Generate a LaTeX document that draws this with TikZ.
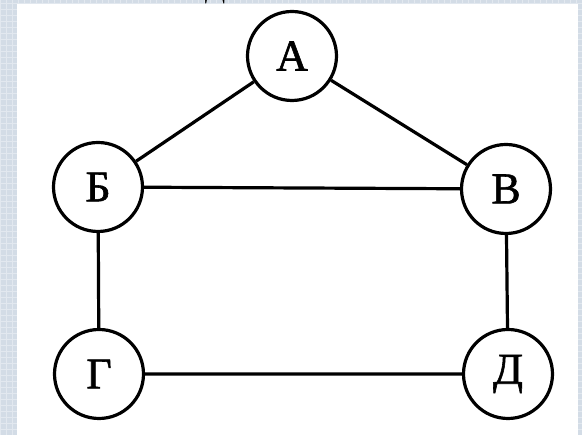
\documentclass[tikz,border=0pt]{standalone}
\usepackage{fontspec}
\setmainfont{Liberation Serif}
\newfontfamily\vtxfont{Liberation Serif}[FakeBold=1.3]
\usetikzlibrary{positioning}
\definecolor{slide}{RGB}{211,220,230}
\definecolor{slidegrid}{RGB}{226,232,239}
\tikzset{vertex/.style={circle,fill=white,draw=black,line width=3.2pt,inner sep=0pt,
minimum size=89pt, font=\fontsize{44}{44}\vtxfont},
link/.style={color=black, line width=3.2pt},
frame/.style={fill=slide},
gridline/.style={draw=slidegrid, line width=0.6pt}}

\begin{document}
\begin{tikzpicture}[x=1pt,y=1pt]
  \useasboundingbox (0,0) rectangle (582,435);
  % slide background
  \fill [frame] (0,0) rectangle (582,435);
  \draw [gridline, step=6] (0,0) grid (582,435);
  \fill [white] (17,0) rectangle (578,431);
  \node (cut) [anchor=base, font=\fontsize{30}{30}\selectfont] at (215,437) {Д};
  % graph
  \node (a) [vertex] at (292,379) {А};
  \node (b) [vertex] at (98,248) {Б};
  \node (v) [vertex] at (506,246) {В};
  \node (g) [vertex] at (99,61) {Г};
  \node (d) [vertex] at (508,61) {Д};
  \draw [link] (b) -- (a) -- (v) -- (b);
  \draw [link] (b) -- (g) -- (d) -- (v);
\end{tikzpicture}
\end{document}
